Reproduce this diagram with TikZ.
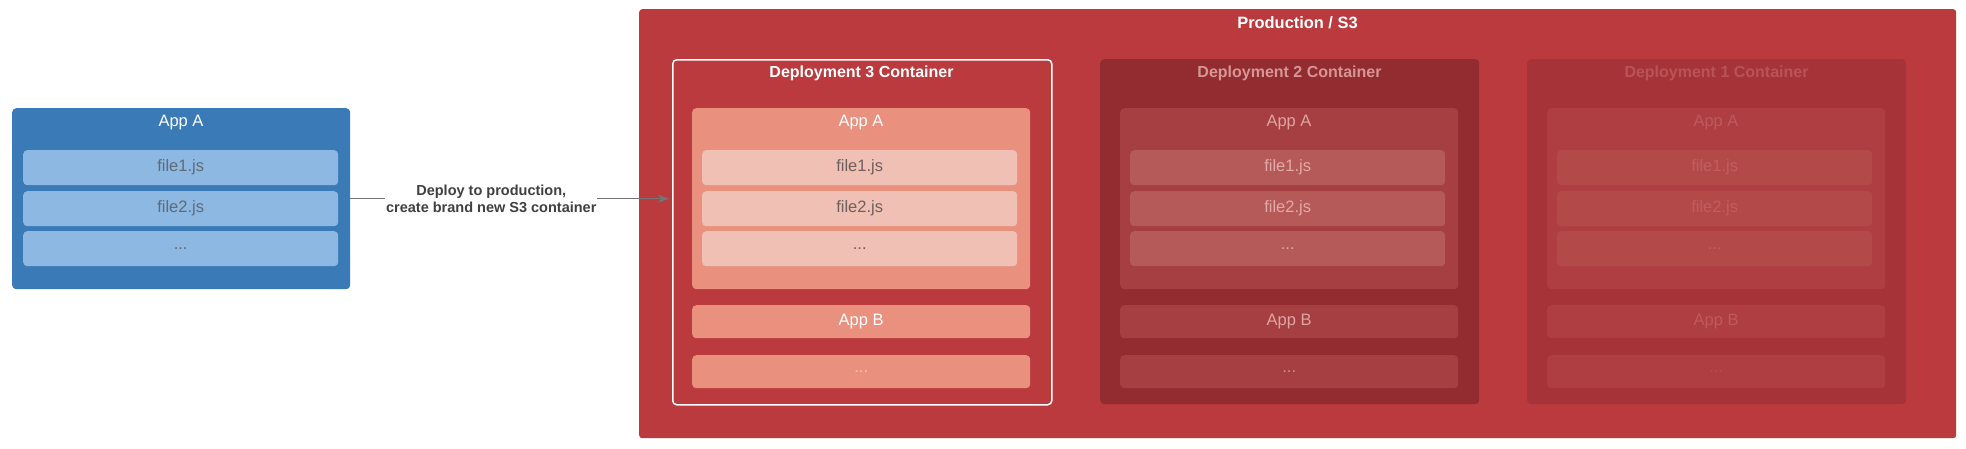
\documentclass[tikz,border=0pt]{standalone}
\usepackage{fontspec}
\setmainfont{Liberation Sans}
\usetikzlibrary{arrows.meta}
\definecolor{blueapp}{HTML}{3A7AB6}
\definecolor{bluefile}{HTML}{8CB8E2}
\definecolor{filegray}{HTML}{5F6B78}
\definecolor{prodred}{HTML}{BB3A3E}
\definecolor{connGray}{HTML}{757575}
\definecolor{lblText}{HTML}{404040}
\newcommand\deploy[3]{%
  \node[box,dcont,minimum width=379pt,minimum height=345pt] (#1) at (#2,59) {};
  \node[ttl,dtitle] (#1-t) at ({#2+189.5},73) {#3};
  \node[box,dapp,minimum width=338pt,minimum height=181pt] (#1-a) at ({#2+20},108) {};
  \node[apptxt,dapptxt] (#1-at) at ({#2+189},123) {App A};
  \node[box,dfile,minimum width=315pt,minimum height=35pt,filetxt,dfiletxt] (#1-f1) at ({#2+30},150) {file1.js};
  \node[box,dfile,minimum width=315pt,minimum height=35pt,filetxt,dfiletxt] (#1-f2) at ({#2+30},191) {file2.js};
  \node[box,dfile,minimum width=315pt,minimum height=35pt,filetxt,dfiletxt] (#1-f3) at ({#2+30},231) {...};
  \node[box,dapp,minimum width=338pt,minimum height=33pt,apptxt,dapptxt] (#1-b) at ({#2+20},305) {App B};
  \node[box,dapp,minimum width=338pt,minimum height=33pt,filetxt,ddots] (#1-c) at ({#2+20},355) {...};
}
\begin{document}
\begin{tikzpicture}[x=1pt,y=-1pt,
  box/.style={rounded corners=4pt,inner sep=0pt,anchor=north west},
  ttl/.style={font=\bfseries\fontsize{16}{18}\selectfont},
  apptxt/.style={font=\fontsize{16.5}{18}\selectfont},
  filetxt/.style={font=\fontsize{16.5}{18}\selectfont},
  lbl/.style={font=\bfseries\fontsize{14.5}{17.5}\selectfont,text=lblText,align=center,inner sep=1pt},
  conn/.style={draw=connGray,line width=1.4pt,-{Stealth[length=11pt,width=8pt]}}]
\useasboundingbox (0,0) rectangle (1966,448);
\fill[white] (0,0) rectangle (1966,448);
% source app
\node[box,fill=blueapp,minimum width=338pt,minimum height=181pt] (src) at (12,108) {};
\node[apptxt,text=white] (src-t) at (181,123) {App A};
\node[box,fill=bluefile,minimum width=315pt,minimum height=35pt,filetxt,text=filegray] (src-f1) at (23,150) {file1.js};
\node[box,fill=bluefile,minimum width=315pt,minimum height=35pt,filetxt,text=filegray] (src-f2) at (23,191) {file2.js};
\node[box,fill=bluefile,minimum width=315pt,minimum height=35pt,filetxt,text=filegray] (src-f3) at (23,231) {...};
% production
\node[box,fill=prodred,rounded corners=3pt,minimum width=1317pt,minimum height=429pt] (prod) at (639,9) {};
\node[font=\bfseries\fontsize{16.4}{18}\selectfont,text=white] (prod-t) at (1297.5,23) {Production / S3};
% deployment 3
\begin{scope}[dcont/.style={fill=prodred,draw=white,line width=1.5pt},
  dtitle/.style={text=white}, dapp/.style={fill={rgb,255:red,233;green,144;blue,127}},
  dfile/.style={fill={rgb,255:red,240;green,192;blue,181}},
  dapptxt/.style={text=white}, dfiletxt/.style={text={rgb,255:red,110;green,95;blue,93}},
  ddots/.style={text={rgb,255:red,247;green,200;blue,190}}]
\deploy{d3}{672}{Deployment 3 Container}
\end{scope}
% deployment 2
\begin{scope}[dcont/.style={fill={rgb,255:red,147;green,44;blue,48}},
  dtitle/.style={text={rgb,255:red,214;green,150;blue,148}}, dapp/.style={fill={rgb,255:red,166;green,63;blue,66}},
  dfile/.style={fill={rgb,255:red,181;green,90;blue,88}},
  dapptxt/.style={text={rgb,255:red,222;green,165;blue,162}}, dfiletxt/.style={text={rgb,255:red,225;green,170;blue,166}},
  ddots/.style={text={rgb,255:red,215;green,140;blue,138}}]
\deploy{d2}{1100}{Deployment 2 Container}
\end{scope}
% deployment 1
\begin{scope}[dcont/.style={fill={rgb,255:red,166;green,51;blue,55}},
  dtitle/.style={text={rgb,255:red,185;green,84;blue,86}}, dapp/.style={fill={rgb,255:red,174;green,62;blue,65}},
  dfile/.style={fill={rgb,255:red,180;green,73;blue,74}},
  dapptxt/.style={text={rgb,255:red,190;green,90;blue,92}}, dfiletxt/.style={text={rgb,255:red,192;green,94;blue,95}},
  ddots/.style={text={rgb,255:red,182;green,76;blue,78}}]
\deploy{d1}{1527}{Deployment 1 Container}
\end{scope}
% connector
\draw[conn,shorten >=3pt] (src.east) -- (src.east -| d3.west)
  node[pos=0.438,fill=white,lbl] (lbl) {Deploy to production,\\create brand new S3 container};
\end{tikzpicture}
\end{document}
